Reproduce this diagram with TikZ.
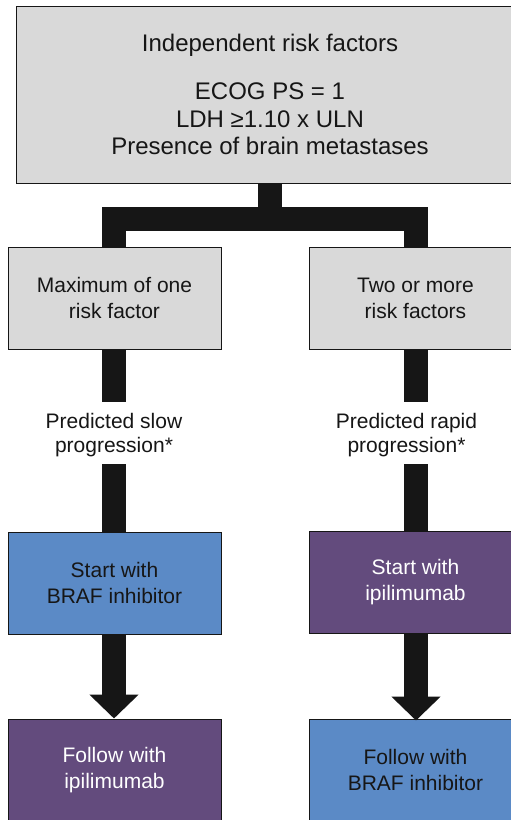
\documentclass[tikz,border=0pt]{standalone}
\usepackage{fontspec}
\setmainfont{Liberation Sans}
\usetikzlibrary{arrows.meta}
\definecolor{boxgray}{HTML}{D9D9D9}
\definecolor{boxblue}{HTML}{5B8AC6}
\definecolor{boxpurple}{HTML}{634B7D}
\definecolor{ink}{HTML}{161616}
\begin{document}
\begin{tikzpicture}[x=1pt,y=-1pt,
  box/.style={draw=ink,line width=1pt,inner sep=0pt,align=center,text=ink,
    minimum width=213pt,minimum height=102pt,font=\fontsize{21}{26}\selectfont},
  graybox/.style={box,fill=boxgray},
  bluebox/.style={box,fill=boxblue,text=ink},
  purplebox/.style={box,fill=boxpurple,text=white},
  lbl/.style={inner sep=0pt,align=center,text=ink,font=\fontsize{21}{24.5}\selectfont},
  bar/.style={draw=ink,line width=24pt,line join=miter},
  arr/.style={bar,-{Triangle[width=48pt,length=24pt]}}]
\useasboundingbox (0,0) rectangle (511,820);
\clip (0,0) rectangle (511,820);
\fill[white] (0,0) rectangle (511,820);

\node[graybox,minimum width=508pt,minimum height=177pt,font=\fontsize{24}{27.5}\selectfont]
  (top) at (270,94.5) {Independent risk factors\\[21pt]ECOG PS = 1\\LDH ≥1.10 x ULN\\Presence of brain metastases};

\node[graybox] (maxone) at (114.5,298) {Maximum of one\\risk factor};
\node[graybox] (twomore) at (415.5,298) {Two or more\\risk factors};

\node[lbl] (slow) at (114,435) {Predicted slow\\progression*};
\node[lbl] (rapid) at (406.5,435) {Predicted rapid\\progression*};

\coordinate (sl1) at (114,402);
\coordinate (sl2) at (114,464);
\coordinate (rp1) at (416,402);
\coordinate (rp2) at (416,464);

\node[bluebox] (startbraf) at (114.5,583) {Start with\\BRAF inhibitor};
\node[purplebox] (startipi) at (415.5,582) {Start with\\ipilimumab};

\node[purplebox] (followipi) at (114.5,770) {Follow with\\ipilimumab};
\node[bluebox] (followbraf) at (415.5,770) {Follow with\\BRAF inhibitor};

% tree connector
\draw[bar] (top.south) -- ++(0,36.5);
\draw[bar] (maxone.north -| sl1) -- ++(0,-27.5) -| (twomore.north -| rp1);

% stems
\draw[bar] (maxone.south -| sl1) -- (sl1);
\draw[bar] (sl2) -- (startbraf.north -| sl2);
\draw[bar] (twomore.south -| rp1) -- (rp1);
\draw[bar] (rp2) -- (startipi.north -| rp2);

% arrows
\draw[arr] (startbraf.south -| sl1) -- (followipi.north -| sl1);
\draw[arr] (startipi.south -| rp1) -- ([yshift=-2pt]followbraf.north -| rp1);
\end{tikzpicture}
\end{document}
